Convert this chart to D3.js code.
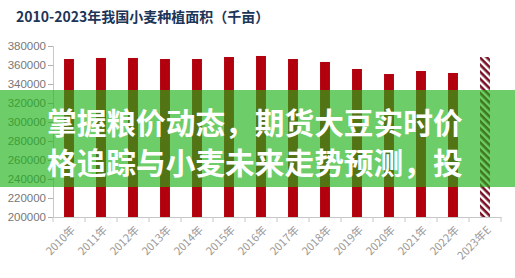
<!DOCTYPE html>
<html lang="zh">
<head>
    <meta charset="utf-8">
    <title>小麦种植面积</title>
    <script type="text/javascript" src="https://cdn.jsdelivr.net/npm/d3@7"></script>
    <style type="text/css">
        html, body { margin: 0; padding: 0; background: #fff; }
        svg { display: block; }
    </style>
</head>
<body>
    <script type="text/javascript">
        // Data
        var years = ["2010年", "2011年", "2012年", "2013年", "2014年", "2015年", "2016年",
                     "2017年", "2018年", "2019年", "2020年", "2021年", "2022年", "2023年E"];
        var area = [366300, 367400, 367400, 366300, 366300, 368400, 369500,
                    366300, 363200, 355800, 350500, 353700, 351600, 368400];
        var yTicks = [200000, 220000, 240000, 260000, 280000, 300000, 320000, 340000, 360000, 380000];
        var titleText = "2010-2023年我国小麦种植面积（千亩）";
        var bannerLines = ["掌握粮价动态，期货大豆实时价", "格追踪与小麦未来走势预测，投"];

        var w = 515;
        var h = 278;

        var svg = d3.select("body")
            .append("svg")
            .attr("width", w)
            .attr("height", h);

        // hatch pattern for the estimate bar
        var defs = svg.append("defs");
        var pat = defs.append("pattern")
            .attr("id", "hatch")
            .attr("patternUnits", "userSpaceOnUse")
            .attr("width", 5)
            .attr("height", 5)
            .attr("patternTransform", "rotate(45)");
        pat.append("rect").attr("width", 5).attr("height", 5).attr("fill", "#fff");
        pat.append("rect").attr("width", 5).attr("height", 2.6).attr("fill", "#7a1024");

        // Scales
        var x = d3.scaleBand()
            .domain(years)
            .range([53, 501])
            .paddingInner(0.69)
            .paddingOuter(0.345);

        var y = d3.scaleLinear()
            .domain([200000, 380000])
            .range([217, 46]);

        // Title
        svg.append("text")
            .attr("x", 16)
            .attr("y", 22)
            .attr("fill", "#1d3557")
            .style("font-family", "'Noto Sans CJK SC', sans-serif")
            .style("font-weight", "bold")
            .style("font-size", "14px")
            .text(titleText);

        // Y axis
        var yAxis = svg.append("g")
            .attr("transform", "translate(53,0)")
            .call(d3.axisLeft(y).tickValues(yTicks).tickSize(5).tickPadding(2).tickFormat(d3.format("d")));
        yAxis.select(".domain").attr("stroke", "#c8c8c8");
        yAxis.selectAll(".tick line").attr("stroke", "#b0b0b0");
        yAxis.selectAll("text")
            .attr("fill", "#777")
            .style("font-family", "'Liberation Sans', Arial, sans-serif")
            .style("font-size", "11.5px");

        // X axis
        var xAxis = svg.append("g")
            .attr("transform", "translate(0,217)")
            .call(d3.axisBottom(x).tickSize(0).tickSizeOuter(0));
        xAxis.select(".domain").attr("stroke", "#c8c8c8");
        xAxis.selectAll("text")
            .attr("fill", "#999")
            .attr("text-anchor", "end")
            .attr("transform", "translate(4,11) rotate(-45)")
            .attr("dy", "0.35em")
            .attr("y", 0)
            .attr("x", 0)
            .style("font-family", "'Noto Sans CJK SC', sans-serif")
            .style("font-size", "11px");

        // tick marks at band boundaries
        var step = x.step();
        svg.append("g")
            .selectAll("line")
            .data(years.concat(["end"]))
            .enter()
            .append("line")
            .attr("x1", function(d, i) { return x.range()[0] + i * step; })
            .attr("x2", function(d, i) { return x.range()[0] + i * step; })
            .attr("y1", 217)
            .attr("y2", 222)
            .attr("stroke", "#c8c8c8");

        // Bars
        svg.selectAll("rect.bar")
            .data(area)
            .enter()
            .append("rect")
            .attr("class", "bar")
            .attr("x", function(d, i) { return x(years[i]); })
            .attr("width", x.bandwidth())
            .attr("y", function(d) { return y(d); })
            .attr("height", function(d) { return y(200000) - y(d); })
            .attr("fill", function(d, i) { return i === years.length - 1 ? "url(#hatch)" : "#b3000f"; });

        // Green banner overlay
        svg.append("rect")
            .attr("x", 0)
            .attr("y", 90)
            .attr("width", w)
            .attr("height", 97)
            .attr("fill", "rgb(31,178,23)")
            .attr("fill-opacity", 0.65);

        svg.selectAll("text.banner")
            .data(bannerLines)
            .enter()
            .append("text")
            .attr("class", "banner")
            .attr("x", 47)
            .attr("y", function(d, i) { return 121 + i * 40; })
            .attr("dominant-baseline", "central")
            .attr("fill", "#fff")
            .style("font-family", "'Noto Sans CJK SC', sans-serif")
            .style("font-weight", "bold")
            .style("font-size", "29.7px")
            .text(function(d) { return d; });
    </script>
</body>
</html>
